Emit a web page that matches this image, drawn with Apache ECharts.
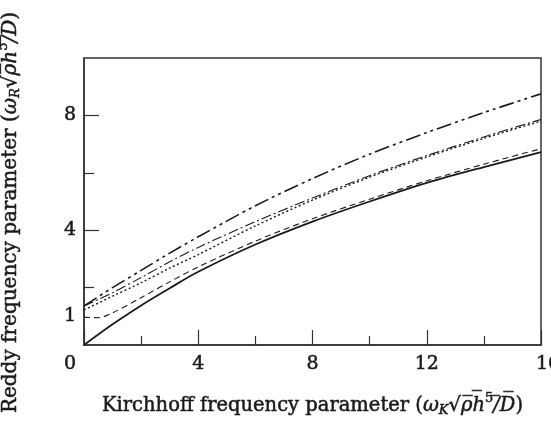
<!DOCTYPE html>
<html>
<head>
<meta charset="utf-8">
<script src="https://cdn.jsdelivr.net/npm/echarts@6/dist/echarts.min.js"></script>
<style>
html,body{margin:0;padding:0;background:#fff;}
#chart{width:551px;height:421px;}
</style>
</head>
<body>
<div id="chart"></div>
<script>
const fontFam='"DejaVu Serif","Liberation Serif",serif';
const ink='#1a1a1a';

// x positions (Kirchhoff parameter)
const xs=[0,1,2,3,4,6,8,10,12,14,16];
const xsDashed=[0,0.5,1,2,3,4,6,8,10,12,14,16];
// Reddy parameter per curve
const solidY=[0,0.72,1.38,1.98,2.55,3.5,4.3,5.0,5.65,6.2,6.72];
const dashedY=[0.97,0.95,1.12,1.65,2.2,2.72,3.62,4.4,5.08,5.72,6.3,6.84];
const dottedY=[1.22,1.7,2.17,2.68,3.15,4.15,5.05,5.85,6.55,7.2,7.8];
const dashDotY=[1.36,1.82,2.35,2.9,3.4,4.3,5.12,5.9,6.6,7.25,7.86];
const dashDotDotY=[1.36,2.0,2.6,3.2,3.77,4.85,5.8,6.65,7.4,8.1,8.75];

const xLabelVals=[0,4,8,12,16];
const yLabelVals=[1,4,8];
const yMajorTicks=[4,8];
const yMinorTicks=[2,6];

const pair=(x,y)=>x.map((v,i)=>[v,y[i]]);

var myChart=echarts.init(document.getElementById('chart'));
const lineSeries=(data,w,dash)=>({
    type:'line',
    data:data,
    smooth:0.3,
    showSymbol:false,
    silent:true,
    lineStyle:{color:ink,width:w,type:dash}
});
const heavy={color:ink,textBorderColor:ink,textBorderWidth:0.5};
const makeRich=size=>({
    w:Object.assign({fontFamily:fontFam,fontSize:size,fontStyle:'italic'},heavy),
    sub:Object.assign({fontFamily:fontFam,fontSize:13,fontStyle:'italic',padding:[10,0,0,0]},heavy),
    sup:Object.assign({fontFamily:fontFam,fontSize:13,padding:[0,0,14,0]},heavy)
});
const tickRich={
    z:Object.assign({fontFamily:fontFam,fontSize:19,padding:[0,28,0,0]},heavy),
    e:Object.assign({fontFamily:fontFam,fontSize:19,padding:[0,0,0,14]},heavy)
};
var option={
    animation:false,
    backgroundColor:'#fff',
    grid:{
        left:84,right:10,top:58,bottom:76,
        outerBoundsMode:'none',
        show:true,borderColor:'#333',borderWidth:1.5
    },
    xAxis:{
        type:'value',
        min:0,max:16,interval:4,
        name:'Kirchhoff frequency parameter ({w|ω}{sub|K}{w|√}{w|ρ̅h̅}{sup|5}{w|/̅D̅})',
        nameLocation:'middle',
        nameGap:47,
        nameTextStyle:Object.assign({fontFamily:fontFam,fontSize:19.5,rich:makeRich(19.5)},heavy),
        axisLine:{lineStyle:{color:'#333',width:1.5}},
        axisTick:{inside:true,length:15,lineStyle:{color:'#333',width:1.2}},
        minorTick:{show:true,splitNumber:2,length:9,lineStyle:{color:'#333',width:1.2}},
        splitLine:{show:false},
        axisLabel:Object.assign({
            fontFamily:fontFam,fontSize:19,margin:10,
            customValues:xLabelVals,
            formatter:v=>v===0?'{z|0}':(v===16?'{e|16}':String(v)),
            rich:tickRich
        },heavy)
    },
    yAxis:[{
        type:'value',
        min:0,max:10,
        name:'Reddy frequency parameter ({w|ω}{sub|R}{w|√}{w|ρ̅h̅}{sup|5}{w|/̅D̅})',
        nameLocation:'middle',
        nameGap:60,
        nameTextStyle:Object.assign({fontFamily:fontFam,fontSize:20,padding:[0,22,0,0],rich:makeRich(20)},heavy),
        axisLine:{show:true,lineStyle:{color:'#333',width:1.5}},
        axisTick:{inside:true,length:15,customValues:yMajorTicks,lineStyle:{color:'#333',width:1.2}},
        splitLine:{show:false},
        axisLabel:Object.assign({
            fontFamily:fontFam,fontSize:19,margin:8,
            customValues:yLabelVals
        },heavy)
    },{
        type:'value',
        min:0,max:10,
        position:'left',
        axisLine:{show:false},
        axisTick:{show:true,inside:true,length:10,customValues:yMinorTicks,lineStyle:{color:'#333',width:1.2}},
        axisLabel:{show:false},
        splitLine:{show:false}
    }],
    series:[
        lineSeries(pair(xs,solidY),1.8,'solid'),
        lineSeries(pair(xsDashed,dashedY),1.1,[6,4]),
        lineSeries(pair(xs,dottedY),1.4,[2,2.5]),
        lineSeries(pair(xs,dashDotY),1.1,[10,3,2,3]),
        lineSeries(pair(xs,dashDotDotY),1.6,[15,4,3,4,3,4])
    ]
};
myChart.setOption(option);
</script>
</body>
</html>
